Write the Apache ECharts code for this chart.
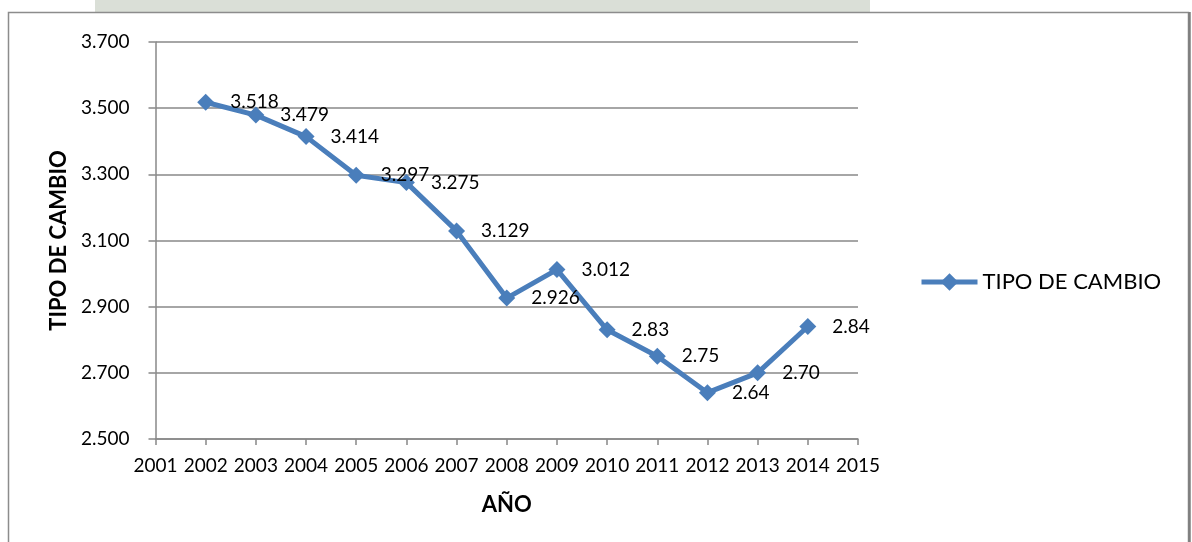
<!DOCTYPE html>
<html>
<head>
<meta charset="utf-8">
<script src="https://cdn.jsdelivr.net/npm/echarts@6/dist/echarts.min.js"></script>
<style>
html,body{margin:0;padding:0;background:#fff;}
#chart{width:1192px;height:542px;}
</style>
</head>
<body>
<div id="chart"></div>
<script>
const years = [2002, 2003, 2004, 2005, 2006, 2007, 2008, 2009, 2010, 2011, 2012, 2013, 2014];
const values = [3.518, 3.479, 3.414, 3.297, 3.275, 3.129, 2.926, 3.012, 2.83, 2.75, 2.64, 2.70, 2.84];
const valueLabels = ['3.518', '3.479', '3.414', '3.297', '3.275', '3.129', '2.926', '3.012', '2.83', '2.75', '2.64', '2.70', '2.84'];
const seriesName = 'TIPO DE CAMBIO';
const xTitle = 'AÑO';
const yTitle = 'TIPO DE CAMBIO';

const FONT = 'Lato, "Open Sans", sans-serif';
const chart = echarts.init(document.getElementById('chart'), null, {renderer: 'canvas'});
const points = years.map((y, i) => [y, values[i]]);

chart.setOption({
  animation: false,
  backgroundColor: '#ffffff',
  graphic: [
    {type: 'rect', shape: {x: 95, y: 0, width: 775, height: 12}, style: {fill: '#dadfd7'}, silent: true, z: -10},
    {type: 'rect', shape: {x: 8.5, y: 12.5, width: 1180, height: 545}, style: {fill: 'none', stroke: '#8c8c8c', lineWidth: 1.5}, silent: true, z: -5},
    {type: 'line', shape: {x1: 1189.5, y1: 12, x2: 1189.5, y2: 542}, style: {stroke: '#7f7f7f', lineWidth: 2.5}, silent: true, z: -4}
  ],
  grid: {left: 155.5, right: 334, top: 42, bottom: 103, containLabel: false},
  legend: {
    data: [seriesName],
    left: 919,
    top: 271,
    padding: 0,
    itemWidth: 56,
    itemHeight: 22,
    lineStyle: {width: 5},
    textStyle: {fontFamily: FONT, fontSize: 22, color: '#000'}
  },
  xAxis: {
    type: 'value',
    min: 2001,
    max: 2015,
    interval: 1,
    name: xTitle,
    nameLocation: 'middle',
    nameGap: 55,
    nameTextStyle: {fontFamily: FONT, fontSize: 22, fontWeight: 'bold', color: '#000'},
    axisLine: {show: true, lineStyle: {color: '#888', width: 1.5}},
    axisTick: {show: true, inside: false, length: 6, lineStyle: {color: '#888', width: 1.5}},
    axisLabel: {fontFamily: FONT, fontSize: 19, color: '#000', margin: 17, formatter: v => String(v)},
    splitLine: {show: false}
  },
  yAxis: {
    type: 'value',
    min: 2.5,
    max: 3.7,
    interval: 0.2,
    name: yTitle,
    nameLocation: 'middle',
    nameRotate: 90,
    nameGap: 84,
    nameTextStyle: {fontFamily: FONT, fontSize: 22, fontWeight: 'bold', color: '#000'},
    axisLine: {show: true, lineStyle: {color: '#888', width: 1.5}},
    axisTick: {show: true, inside: false, length: 7, lineStyle: {color: '#888', width: 1.5}},
    axisLabel: {fontFamily: FONT, fontSize: 19, color: '#000', margin: 26, formatter: v => v.toFixed(3)},
    splitLine: {show: true, lineStyle: {color: '#888', width: 1.5}}
  },
  series: [{
    name: seriesName,
    type: 'line',
    data: points,
    symbol: 'diamond',
    symbolSize: 17,
    showAllSymbol: true,
    lineStyle: {color: '#4a7ebb', width: 5},
    itemStyle: {color: '#4a7ebb'},
    label: {
      show: true,
      position: 'right',
      distance: 16,
      fontFamily: FONT,
      fontSize: 19,
      color: '#000',
      formatter: p => valueLabels[p.dataIndex]
    },
    z: 3
  }]
});
</script>
</body>
</html>
